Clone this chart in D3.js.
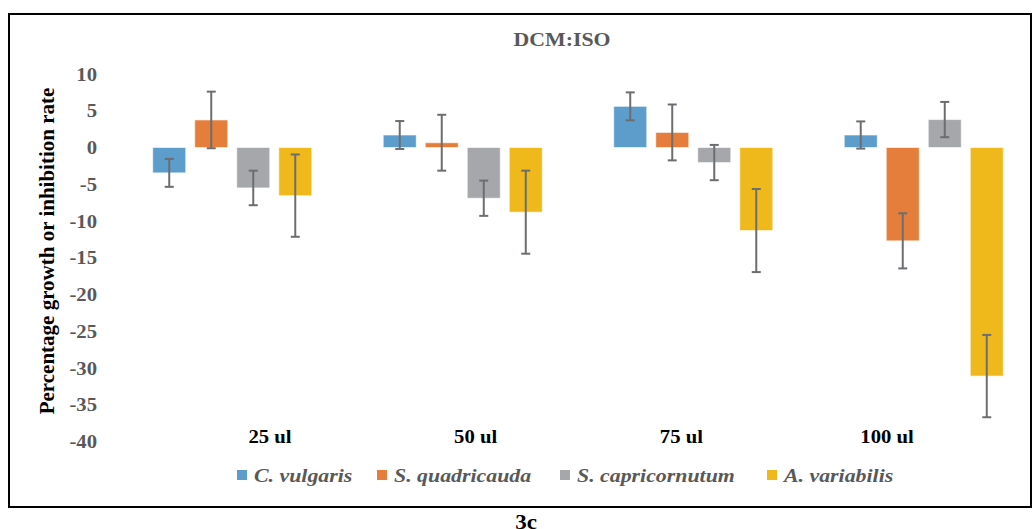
<!DOCTYPE html>
<html>
<head>
<meta charset="utf-8">
<script src="https://cdn.jsdelivr.net/npm/d3@7"></script>
<style>
  html, body { margin: 0; padding: 0; background: #fff; }
  svg { display: block; }
</style>
</head>
<body>
<svg id="chart" width="1032" height="529"></svg>
<script>
const categories = ["25 ul", "50 ul", "75 ul", "100 ul"];
const series = ["C. vulgaris", "S. quadricauda", "S. capricornutum", "A. variabilis"];
const values = {
  "C. vulgaris":      [-3.45, 1.7, 5.6, 1.7],
  "S. quadricauda":   [3.75, 0.65, 2.05, -12.7],
  "S. capricornutum": [-5.5, -6.9, -2.05, 3.8],
  "A. variabilis":    [-6.55, -8.8, -11.3, -31.1]
};
const errors = {
  "C. vulgaris":      [1.9, 1.9, 1.9, 1.85],
  "S. quadricauda":   [3.85, 3.8, 3.8, 3.75],
  "S. capricornutum": [2.35, 2.4, 2.4, 2.4],
  "A. variabilis":    [5.6, 5.65, 5.65, 5.6]
};
const yTicks = [10, 5, 0, -5, -10, -15, -20, -25, -30, -35, -40];
const colors = ["#5d9dcc", "#e57e3b", "#a5a7aa", "#f0b91b"];

const FONT = '"Liberation Serif", "Times New Roman", Times, serif';
const SX = 1.15; // horizontal stretch of the reference's text
const svg = d3.select("#chart");

function styleText(sel, size, color, italic) {
  return sel.style("font-family", FONT).style("font-weight", "bold")
    .style("font-style", italic ? "italic" : "normal")
    .style("font-size", size + "px").attr("fill", color);
}

// frame
svg.append("rect").attr("x", 9).attr("y", 14).attr("width", 1022).attr("height", 493)
  .attr("fill", "none").attr("stroke", "#000").attr("stroke-width", 2);

const y = d3.scaleLinear().domain([-40, 10]).range([441.5, 74]);
const x0 = d3.scaleBand().domain(categories).range([117, 1039]).paddingInner(0.31).paddingOuter(0.155);
const x1 = d3.scaleBand().domain(series).range([0, x0.bandwidth()]).paddingInner(0.214);
const color = d3.scaleOrdinal().domain(series).range(colors);
const xLabel = d3.scalePoint().domain(categories).range([270, 887]);

// title
styleText(svg.append("text"), 19, "#595959")
  .attr("transform", `translate(562,46) scale(${SX},1)`).attr("text-anchor", "middle").text("DCM:ISO");

// y axis (labels only)
const yAxis = d3.axisLeft(y).tickValues(yTicks).tickSize(0).tickPadding(0).tickFormat(d => String(d));
const yg = svg.append("g").attr("transform", "translate(97,0)").call(yAxis);
yg.select(".domain").remove();
styleText(yg.selectAll("text"), 18, "#595959").attr("dy", "0.34em").attr("transform", `scale(${SX},1)`);

// y axis title
styleText(svg.append("text"), 21, "#000")
  .attr("transform", "translate(54,251) rotate(-90)").attr("text-anchor", "middle")
  .text("Percentage growth or inhibition rate");

// bars
const groups = svg.append("g").selectAll("g").data(categories).join("g")
  .attr("transform", d => `translate(${x0(d)},0)`);

const cellData = (c, i) => series.map(s => ({ s, v: values[s][i], e: errors[s][i] }));

groups.selectAll("rect").data(cellData).join("rect")
  .attr("x", d => x1(d.s)).attr("width", x1.bandwidth())
  .attr("y", d => y(Math.max(0, d.v))).attr("height", d => Math.abs(y(d.v) - y(0)))
  .attr("fill", d => color(d.s)).attr("stroke", "#ffffff").attr("stroke-opacity", 0.6).attr("stroke-width", 1);

// error bars
const eb = groups.selectAll("g.err").data(cellData).join("g").attr("class", "err")
  .attr("transform", d => `translate(${x1(d.s) + x1.bandwidth() / 2},0)`);
eb.append("line").attr("x1", 0).attr("x2", 0)
  .attr("y1", d => y(d.v + d.e)).attr("y2", d => y(d.v - d.e))
  .attr("stroke", "#6b6e70").attr("stroke-width", 2);
eb.append("line").attr("x1", -4.5).attr("x2", 4.5)
  .attr("y1", d => y(d.v + d.e)).attr("y2", d => y(d.v + d.e))
  .attr("stroke", "#6b6e70").attr("stroke-width", 2);
eb.append("line").attr("x1", -4.5).attr("x2", 4.5)
  .attr("y1", d => y(d.v - d.e)).attr("y2", d => y(d.v - d.e))
  .attr("stroke", "#6b6e70").attr("stroke-width", 2);

// category labels
styleText(svg.append("g").selectAll("text").data(categories).join("text"), 18, "#000")
  .attr("transform", d => `translate(${xLabel(d)},443) scale(${SX},1)`)
  .attr("text-anchor", "middle").text(d => d);

// legend
const legendX = [237, 377, 560, 767];
const lg = svg.append("g").selectAll("g").data(series).join("g")
  .attr("transform", (d, i) => `translate(${legendX[i]},482)`);
lg.append("rect").attr("x", 0).attr("y", -12).attr("width", 10).attr("height", 10).attr("fill", d => color(d));
styleText(lg.append("text"), 19, "#595959", true)
  .attr("transform", `translate(17,0) scale(${SX},1)`).text(d => d);

// figure label
styleText(svg.append("text"), 20, "#000")
  .attr("transform", `translate(526,529) scale(${SX},1)`).attr("text-anchor", "middle").text("3c");
</script>
</body>
</html>
